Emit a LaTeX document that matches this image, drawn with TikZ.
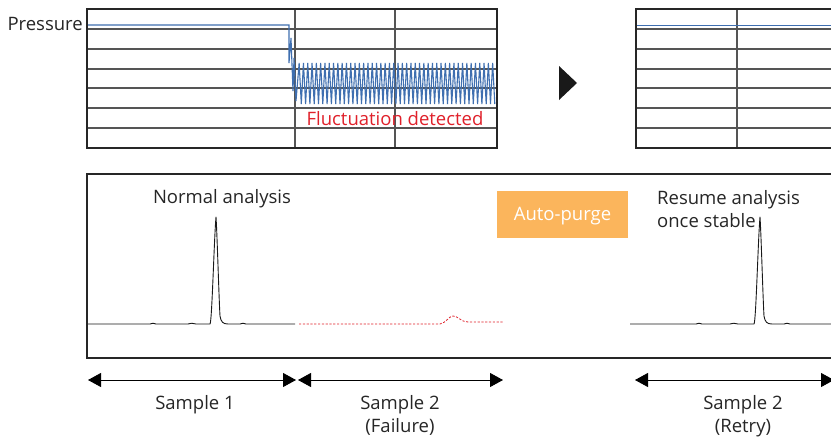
\documentclass[tikz,border=0pt]{standalone}
\usepackage{fontspec}
\setmainfont{Open Sans}
\usetikzlibrary{arrows.meta}
\definecolor{pblue}{HTML}{3F6FB0}
\definecolor{pred}{HTML}{E0202A}
\definecolor{porange}{HTML}{FBB55C}
\definecolor{grid}{HTML}{555555}
\tikzset{
  frame/.style={line width=2.8pt, draw=black!85},
  gridline/.style={line width=1.1pt, draw=grid},
  sig/.style={line width=0.9pt, black!90, line join=round},
  press/.style={line width=1.1pt, pblue},
  span/.style={line width=0.9pt, {Triangle[length=13pt,width=14pt]}-{Triangle[length=13pt,width=14pt]}},
  lbl/.style={font=\fontsize{18.5}{23}\selectfont, text=black!85, inner sep=0pt, align=center},
}
\begin{document}
\begin{tikzpicture}[x=1pt,y=-1pt]
\clip (0,0) rectangle (831,437);
\fill[white] (0,0) rectangle (831,437);
% ---------- top left chart
\foreach \y in {29,49,69,88,108,128} \draw[gridline] (87,\y) -- (497,\y);
\foreach \x in {295,395} \draw[gridline] (\x,9) -- (\x,148);
\draw[press] (88,25) -- (289,25) -- (289,63) -- (291,38) -- (293,91) -- (294,58) -- (296,101)
  \foreach \i in {0,...,45} { -- ({297+\i*4.3+2.15},63) -- ({297+\i*4.3+4.3},104) };
\draw[frame] (87,9) rectangle (497,148);
\node[lbl, anchor=base east] (press) at (83,30) {Pressure};
\node[lbl, text=pred, anchor=base] (fluct) at (395,125) {Fluctuation detected};
% ---------- arrow
\fill[black!90] (559,66) -- (577,83) -- (559,100) -- cycle;
% ---------- top right chart
\foreach \y in {29,49,69,88,108,128} \draw[gridline] (636,\y) -- (840,\y);
\draw[gridline] (737,9) -- (737,148);
\draw[press, line width=0.9pt] (637,25) -- (840,25);
\draw[frame] (636,9) rectangle (845,148);
% ---------- bottom frame
\draw[frame] (87,174) rectangle (845,358);
\node[lbl, anchor=base] (normal) at (222,203) {Normal analysis};
\draw[sig] (88,324) -- (150,324) .. controls (152,323) and (154,323) .. (156,324) -- (188,324)
  .. controls (190,323) and (193,323) .. (196,324) -- (210,324)
  .. controls (212,322) and (214,240) .. (216,217) .. controls (217,230) and (219,300) .. (220,316)
  .. controls (221,322) and (223,324) .. (228,324) -- (240,324) .. controls (242,323) and (244,323) .. (246,324) -- (295,324);
\draw[pred, line width=0.8pt, dashed, dash pattern=on 2.2pt off 1.6pt]
  (299,324) -- (440,324) .. controls (446,323) and (449,316) .. (453,316)
  .. controls (458,316) and (461,322) .. (468,322) -- (503,322);
\node[fill=porange, minimum width=131pt, minimum height=47pt, inner sep=0pt] (purge) at (562.5,214.5) {};
\node[lbl, text=white, anchor=base] (purgetxt) at (562.5,220) {Auto-purge};
\node[lbl, anchor=base west] (resume1) at (657,204) {Resume analysis};
\node[lbl, anchor=base west] (resume2) at (657,227) {once stable};
\draw[sig] (630,324) -- (696,324) .. controls (698,323) and (700,323) .. (702,324) -- (730,324)
  .. controls (732,323) and (735,323) .. (738,324) -- (754,324)
  .. controls (756,322) and (758,240) .. (760,217) .. controls (761,230) and (763,300) .. (764,316)
  .. controls (765,322) and (767,324) .. (772,324) -- (784,324) .. controls (786,323) and (788,323) .. (790,324) -- (840,324);
% ---------- spans
\coordinate (a1) at (88,380); \coordinate (a2) at (296,380);
\coordinate (b1) at (298,380); \coordinate (b2) at (503,380);
\coordinate (c1) at (635,380); \coordinate (c2) at (834,380);
\draw[span] (a1) -- (a2);
\draw[span] (b1) -- (b2);
\draw[span] (c1) -- (c2);
\node[lbl, anchor=base] (s1) at (195,409) {Sample 1};
\node[lbl, anchor=base] (s2a) at (400,409) {Sample 2};
\node[lbl, anchor=base] (s2b) at (400,432) {(Failure)};
\node[lbl, anchor=base] (s3a) at (743,409) {Sample 2};
\node[lbl, anchor=base] (s3b) at (743,432) {(Retry)};
\end{tikzpicture}
\end{document}
